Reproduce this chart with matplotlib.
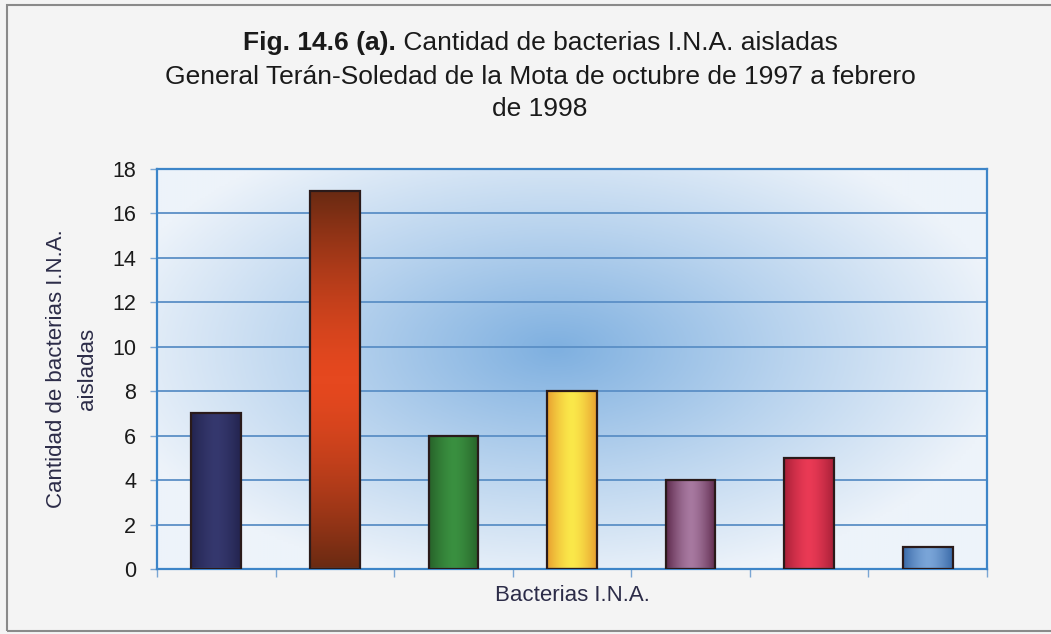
import numpy as np
import matplotlib
matplotlib.use("Agg")
import matplotlib.pyplot as plt
from matplotlib.colors import LinearSegmentedColormap
from matplotlib.patches import Rectangle

# datos
categorias = ["1", "2", "3", "4", "5", "6", "7"]
valores = [7, 17, 6, 8, 4, 5, 1]
yticks = [0, 2, 4, 6, 8, 10, 12, 14, 16, 18]

titulo_negrita = "Fig. 14.6 (a)."
titulo_resto = " Cantidad de bacterias I.N.A. aisladas"
titulo_linea2 = "General Terán-Soledad de la Mota de octubre de 1997 a febrero"
titulo_linea3 = "de 1998"
etiqueta_y = "Cantidad de bacterias I.N.A.\naisladas"
etiqueta_x = "Bacterias I.N.A."

# colores de las barras: (borde/oscuro, centro/claro, direccion)
estilos = [
    ("#23244f", "#35386e", "h"),
    ("#6a2a12", "#e5481f", "v"),
    ("#276229", "#3a9040", "h"),
    ("#e8a030", "#fbe84a", "h"),
    ("#5e2a4c", "#a779a0", "h"),
    ("#a82038", "#ea3a55", "h"),
    ("#3a6aa8", "#7aa5d8", "h"),
]

plt.rcParams['font.family'] = ['Liberation Sans', 'DejaVu Sans']

fig = plt.figure(figsize=(10.51, 6.34), dpi=100, facecolor="#f4f4f4")
ax = fig.add_axes([0.1494, 0.1025, 0.7896, 0.6309])

n = len(valores)
x = np.arange(n)
ax.set_xlim(-0.5, n - 0.5)
ax.set_ylim(0, 18)

# fondo degradado azul del area de trazado
gx, gy = np.meshgrid(np.linspace(0, 1, 300), np.linspace(0, 1, 200))
d = np.sqrt(((gx - 0.48) / 0.55) ** 2 + ((gy - 0.55) / 0.6) ** 2)
d = np.clip(d, 0, 1)
fondo = LinearSegmentedColormap.from_list("fondo", ["#7fb0e0", "#b8d3ee", "#edf3fa"])
ax.imshow(d, cmap=fondo, extent=[0, 1, 0, 1], transform=ax.transAxes,
          aspect="auto", origin="lower", zorder=0, interpolation="bilinear")

for yv in yticks[1:-1]:
    ax.axhline(yv, color="#5b8fc6", lw=1.3, zorder=1)

barras = ax.bar(x, valores, width=0.42, facecolor="none",
                edgecolor="#2a1a1a", linewidth=1.6, zorder=3)

t = np.linspace(0, 1, 100)
perfil = 1 - np.abs(2 * t - 1) ** 1.5
for b, (oscuro, claro, dirc) in zip(barras, estilos):
    cm = LinearSegmentedColormap.from_list("b", [oscuro, claro])
    x0, y0 = b.get_x(), b.get_y()
    w, h = b.get_width(), b.get_height()
    if dirc == "h":
        img = np.tile(perfil, (2, 1))
    else:
        img = np.tile(perfil[:, None], (1, 2))
    im = ax.imshow(img, cmap=cm, extent=[x0, x0 + w, y0, y0 + h],
                   aspect="auto", origin="lower", zorder=2,
                   interpolation="bilinear", vmin=0, vmax=1)
    im.set_clip_path(b)

ax.set_yticks(yticks)
ax.set_yticklabels([str(v) for v in yticks], fontsize=15.5, color="#1a1a1a")
ax.set_xticks(np.arange(n + 1) - 0.5)
ax.set_xticklabels([])
ax.tick_params(axis="x", direction="out", length=6, color="#7aa6d4", width=1)
ax.tick_params(axis="y", direction="out", length=5, color="#7aa6d4",
               width=1, pad=10)
for s in ax.spines.values():
    s.set_color("#3d85c8")
    s.set_linewidth(1.6)

ax.set_ylabel(etiqueta_y, fontsize=16, color="#2c2c48", labelpad=10,
              linespacing=1.65)
ax.set_xlabel(etiqueta_x, fontsize=16, color="#2c2c48", labelpad=2)

# titulo en tres lineas, la primera con parte en negrita
cx = 540 / 1051
t1 = fig.text(cx, 1 - 43 / 634, titulo_negrita, fontsize=19, fontweight="bold",
              color="#1a1a1a", ha="left", va="center")
t2 = fig.text(cx, 1 - 43 / 634, titulo_resto, fontsize=19,
              color="#1a1a1a", ha="left", va="center")
fig.canvas.draw()
r = fig.canvas.get_renderer()
w1 = t1.get_window_extent(r).width / fig.bbox.width
w2 = t2.get_window_extent(r).width / fig.bbox.width
t1.set_x(cx - (w1 + w2) / 2)
t2.set_x(cx - (w1 + w2) / 2 + w1)
fig.text(cx, 1 - 77 / 634, titulo_linea2, fontsize=19, color="#1a1a1a",
         ha="center", va="center")
fig.text(cx, 1 - 109 / 634, titulo_linea3, fontsize=19, color="#1a1a1a",
         ha="center", va="center")

# marco de la figura
fig.patches.append(Rectangle((7 / 1051, 3 / 634), 1.1, 1 - 8 / 634,
                             transform=fig.transFigure, fill=False,
                             edgecolor="#8a8a8a", linewidth=1.5))

fig.savefig("out.png", dpi=100, facecolor=fig.get_facecolor())
